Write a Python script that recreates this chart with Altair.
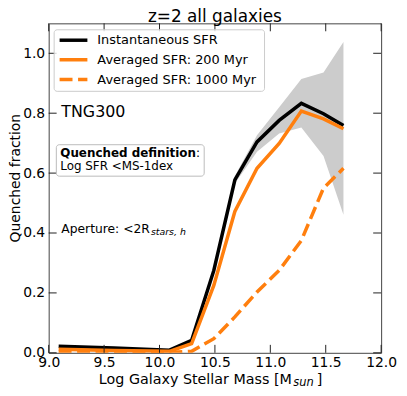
import altair as alt
import pandas as pd

# ---- data ----
mass = [9.09, 9.59, 10.09, 10.29, 10.49, 10.68, 10.88, 11.08, 11.28, 11.48, 11.66]
inst_sfr = [0.022, 0.016, 0.009, 0.042, 0.275, 0.577, 0.704, 0.776, 0.833, 0.798, 0.759]
avg_200 = [0.012, 0.008, 0.005, 0.031, 0.225, 0.472, 0.616, 0.699, 0.807, 0.781, 0.748]
avg_1000 = [0.003, 0.002, 0.001, 0.005, 0.047, 0.120, 0.203, 0.275, 0.375, 0.550, 0.616]

band_mass = [10.29, 10.49, 10.68, 10.88, 11.08, 11.28, 11.48, 11.66]
band_lo = [0.038, 0.268, 0.565, 0.671, 0.732, 0.752, 0.657, 0.461]
band_hi = [0.046, 0.285, 0.590, 0.726, 0.820, 0.914, 0.936, 1.038]

x_ticks = [9.0, 9.5, 10.0, 10.5, 11.0, 11.5, 12.0]
y_ticks = [0.0, 0.2, 0.4, 0.6, 0.8, 1.0]

legend_labels = ["Instantaneous SFR", "Averaged SFR: 200 Myr", "Averaged SFR: 1000 Myr"]

W, H = 335, 332
FONT = "DejaVu Sans"
ORANGE = "#ff7f0e"

xs = alt.Scale(domain=[9.0, 12.0], nice=False, zero=False)
ys = alt.Scale(domain=[0.0, 1.1], nice=False, zero=False)
xaxis = alt.Axis(values=x_ticks, format=".1f", title=None, grid=False, ticks=False,
                 tickSize=0, domain=False, labelFont=FONT, labelFontSize=14,
                 labelColor="black", labelPadding=3, labelFlush=False)
yaxis = alt.Axis(values=y_ticks, format=".1f", title=None, grid=False, ticks=False,
                 tickSize=0, domain=False, labelFont=FONT, labelFontSize=14,
                 labelColor="black", labelPadding=4)


def X(f):
    return alt.X(f, type="quantitative", scale=xs, axis=xaxis)


def Y(f):
    return alt.Y(f, type="quantitative", scale=ys, axis=yaxis)


lines_df = pd.DataFrame({"mass": mass, "inst": inst_sfr, "a200": avg_200, "a1000": avg_1000})
band_df = pd.DataFrame({"mass": band_mass, "lo": band_lo, "hi": band_hi})
xt_df = pd.DataFrame({"t": x_ticks})
yt_df = pd.DataFrame({"t": y_ticks})
one = pd.DataFrame({"a": [0]})

band = alt.Chart(band_df).mark_area(color="#cccccc", opacity=1).encode(
    x=X("mass"), y=Y("lo"), y2="hi")
l_inst = alt.Chart(lines_df).mark_line(color="black", strokeWidth=3.5, clip=True).encode(
    x=X("mass"), y=Y("inst"))
l_200 = alt.Chart(lines_df).mark_line(color=ORANGE, strokeWidth=3.5, clip=True).encode(
    x=X("mass"), y=Y("a200"))
l_1000 = alt.Chart(lines_df).mark_line(color=ORANGE, strokeWidth=3.5, strokeDash=[13, 5.6],
                                        clip=True).encode(x=X("mass"), y=Y("a1000"))

TK = 8
tick_col = "#222222"
t_bottom = alt.Chart(xt_df).mark_rule(color=tick_col, strokeWidth=1).encode(
    x=X("t"), y=alt.value(H), y2=alt.value(H - TK))
t_top = alt.Chart(xt_df).mark_rule(color=tick_col, strokeWidth=1).encode(
    x=X("t"), y=alt.value(0), y2=alt.value(TK))
t_left = alt.Chart(yt_df).mark_rule(color=tick_col, strokeWidth=1).encode(
    y=Y("t"), x=alt.value(0), x2=alt.value(TK))
t_right = alt.Chart(yt_df).mark_rule(color=tick_col, strokeWidth=1).encode(
    y=Y("t"), x=alt.value(W), x2=alt.value(W - TK))


def txt(s, x, y, size=13, **kw):
    return alt.Chart(one).mark_text(text=s, font=FONT, fontSize=size, color="black",
                                    align=kw.pop("align", "left"),
                                    baseline=kw.pop("baseline", "alphabetic"), **kw).encode(
        x=alt.value(x), y=alt.value(y))


# legend (drawn by hand)
leg_box = alt.Chart(one).mark_rect(fill="white", fillOpacity=0.8, stroke="#cccccc",
                                   strokeWidth=1, cornerRadius=3).encode(
    x=alt.value(5.5), x2=alt.value(217.5), y=alt.value(6.5), y2=alt.value(68.5))
rows = [17, 36.7, 56.7]
leg_l1 = alt.Chart(one).mark_rule(color="black", strokeWidth=3.5).encode(
    x=alt.value(11), x2=alt.value(39), y=alt.value(rows[0]))
leg_l2 = alt.Chart(one).mark_rule(color=ORANGE, strokeWidth=3.5).encode(
    x=alt.value(11), x2=alt.value(39), y=alt.value(rows[1]))
leg_l3 = alt.Chart(one).mark_rule(color=ORANGE, strokeWidth=3.5, strokeDash=[13, 5.6]).encode(
    x=alt.value(11), x2=alt.value(39), y=alt.value(rows[2]))
leg_t = [txt(legend_labels[i], 49, rows[i], 13, baseline="middle") for i in range(3)]

# annotation box
q_box = alt.Chart(one).mark_rect(fill="white", stroke="#bbbbbb", strokeWidth=1,
                                 cornerRadius=3).encode(
    x=alt.value(7.7), x2=alt.value(156.7), y=alt.value(122.3), y2=alt.value(154))
q1 = txt("Quenched definition", 11.7, 134.7, 12, fontWeight="bold")
q1c = txt(":", 148.5, 134.7, 12)
q2 = txt("Log SFR <MS-1dex", 11.7, 148, 12)

tng = txt("TNG300", 12.7, 94.7, 16)
ap = txt("Aperture: <2R", 12.7, 211.5, 12.4)
ap_sub = txt("stars, h", 103, 213.5, 9.5, fontStyle="italic")

title = txt("z=2 all galaxies", W / 2, -1.5, 17, align="center")
ytitle = txt("Quenched fraction", -29, 156, 14, align="center", angle=270)
xt_main = txt("Log Galaxy Stellar Mass [M", 245, 363.2, 14.4, align="right")
xt_sub = txt("sun", 246.5, 365.5, 11.5, fontStyle="italic")
xt_end = txt("]", 270, 363.2, 14.4)

chart = alt.layer(
    band, l_inst, l_200, l_1000,
    t_bottom, t_top, t_left, t_right,
    leg_box, leg_l1, leg_l2, leg_l3, *leg_t,
    q_box, q1, q1c, q2, tng, ap, ap_sub,
    title, ytitle, xt_main, xt_sub, xt_end,
).properties(
    width=W, height=H,
    autosize=alt.AutoSizeParams(type="none"),
    padding={"left": 41, "top": 14, "right": 18, "bottom": 34},
).configure_view(stroke="#444444", strokeWidth=1)

chart.save("out.html", embed_options={"renderer": "svg", "actions": False})
